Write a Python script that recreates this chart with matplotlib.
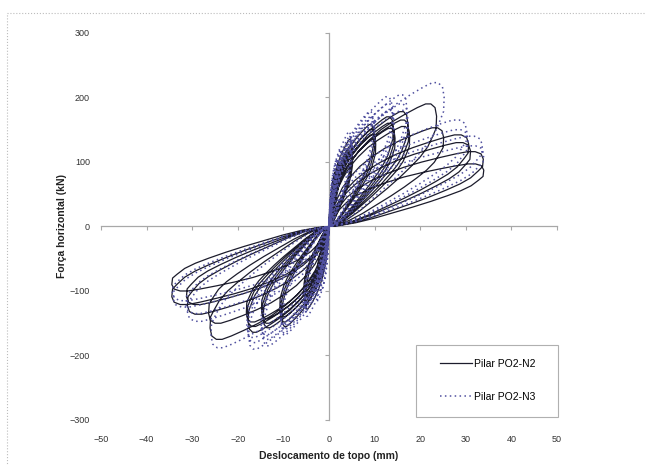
import numpy as np
import matplotlib.pyplot as plt
from matplotlib.patches import Rectangle

plt.rcParams['font.family'] = ['Liberation Sans', 'DejaVu Sans']

# tips of each cycle (mm, kN), one entry per cycle
n2_pos_disp = [1.0, 2.2, 4.8, 4.9, 5.0, 9.5, 9.7, 9.9, 13.6, 13.8, 14.0, 16.7, 16.9, 17.1,
               22.8, 24.3, 29.6, 30.0, 32.7, 32.8]
n2_pos_force = [45, 99, 135, 125, 118, 158, 150, 142, 170, 160, 152, 178, 165, 155,
                190, 153, 142, 130, 116, 97]
n2_neg_disp = [-1.0, -2.5, -5.0, -5.2, -5.3, -10.0, -10.2, -10.4, -13.9, -14.1, -14.3, -17.1, -17.3, -17.5,
               -25.2, -25.5, -30.0, -30.2, -33.3, -33.3]
n2_neg_force = [-40, -85, -128, -118, -110, -155, -148, -140, -157, -150, -143, -164, -155, -148,
                -175, -150, -136, -121, -121, -100]

n3_pos_disp = [0.8, 1.7, 2.5, 4.6, 4.8, 4.9, 9.4, 9.6, 9.8, 13.4, 13.6, 13.8, 16.5, 16.6, 16.8,
               24.4, 29.2, 29.5, 32.5, 32.8]
n3_pos_force = [50, 104, 120, 147, 140, 132, 178, 170, 162, 201, 190, 180, 204, 190, 180,
                223, 165, 150, 140, 125]
n3_neg_disp = [-0.8, -1.7, -2.5, -5.0, -5.2, -5.3, -10.0, -10.2, -10.4, -14.0, -14.2, -14.4, -17.0, -17.2, -17.4,
               -25.0, -30.0, -30.3, -33.0, -33.2]
n3_neg_force = [-50, -100, -115, -139, -130, -122, -167, -160, -152, -185, -175, -168, -190, -180, -172,
                -188, -147, -135, -125, -115]

# outline of one half loop (the big 23 mm one), as fractions of its tip:
# outer edge out to the tip, drop, then the inner edge back to the origin
loop_d = [0.0, 0.03, 0.07, 0.12, 0.19, 0.28, 0.38, 0.5, 0.62, 0.74, 0.85, 0.93, 0.98,
          1.02, 1.035, 1.03,
          1.0, 0.95, 0.88, 0.79, 0.68, 0.56, 0.43, 0.3, 0.18, 0.07]
loop_f = [0.0, 0.13, 0.27, 0.39, 0.5, 0.61, 0.7, 0.79, 0.86, 0.92, 0.97, 1.0, 1.0,
          0.97, 0.9, 0.8,
          0.74, 0.65, 0.57, 0.49, 0.4, 0.31, 0.22, 0.13, 0.06, 0.015]

xticks = [-50, -40, -30, -20, -10, 0, 10, 20, 30, 40, 50]
yticks = [-300, -200, -100, 0, 100, 200, 300]


def build_path(pd, pf, nd, nf):
    # chain the half loops: positive tip, then negative tip, cycle after cycle
    u = np.array(loop_d)
    f = np.array(loop_f)
    xs, ys = [], []
    for a, b, c, d in zip(pd, pf, nd, nf):
        xs.append(a * u)
        ys.append(b * f)
        xs.append(c * u)
        ys.append(d * f)
    return np.concatenate(xs), np.concatenate(ys)


fig = plt.figure(figsize=(6.46, 4.65), dpi=100)
ax = fig.add_axes([0.1563, 0.0968, 0.7059, 0.8323])

x2, y2 = build_path(n2_pos_disp, n2_pos_force, n2_neg_disp, n2_neg_force)
x3, y3 = build_path(n3_pos_disp, n3_pos_force, n3_neg_disp, n3_neg_force)
l2, = ax.plot(x2, y2, color='#1c1c2c', lw=0.9, label='Pilar PO2-N2', zorder=3)
l3, = ax.plot(x3, y3, color='#50509f', lw=1.1, ls=(0, (1, 2.2)), label='Pilar PO2-N3', zorder=3)

ax.set_xlim(-50, 50)
ax.set_ylim(-300, 300)
ax.set_xticks(xticks)
ax.set_yticks(yticks)
for s in ['top', 'right']:
    ax.spines[s].set_visible(False)
for s in ['left', 'bottom']:
    ax.spines[s].set_position('zero')
    ax.spines[s].set_color('#a8a8a8')
    ax.spines[s].set_linewidth(0.9)
ax.tick_params(direction='out', length=3, color='#a8a8a8', labelleft=False, labelbottom=False)

# labels sit on the chart edges, not on the zero lines
secx = ax.secondary_xaxis(0.0)
secx.set_xticks(xticks)
secx.spines['bottom'].set_visible(False)
secx.tick_params(length=0, pad=11, labelsize=6.5, labelcolor='#333333')
secx.set_xlabel('Deslocamento de topo (mm)', fontsize=7.5, fontweight='bold', labelpad=5, color='#222222')

secy = ax.secondary_yaxis(0.0)
secy.set_yticks(yticks)
secy.spines['left'].set_visible(False)
secy.tick_params(length=0, pad=8, labelsize=6.5, labelcolor='#333333')
secy.set_ylabel('Força horizontal (kN)', fontsize=7.5, fontweight='bold', labelpad=2, color='#222222')

ax.add_patch(Rectangle((0.691, 0.008), 0.311, 0.186, transform=ax.transAxes,
                       facecolor='white', edgecolor='#b0b0b0', lw=0.8, zorder=4, clip_on=False))
ax.legend(handles=[l2, l3], frameon=False, loc='center', bbox_to_anchor=(0.848, 0.103),
          handlelength=3.0, handletextpad=0.2, labelspacing=2.2, fontsize=7.5)

fig.patches.append(Rectangle((7 / 646, -0.05), 1.0, 1.023, transform=fig.transFigure,
                             fill=False, ec='#bcbcbc', ls=':', lw=0.8))

fig.savefig('out.png', dpi=100)
